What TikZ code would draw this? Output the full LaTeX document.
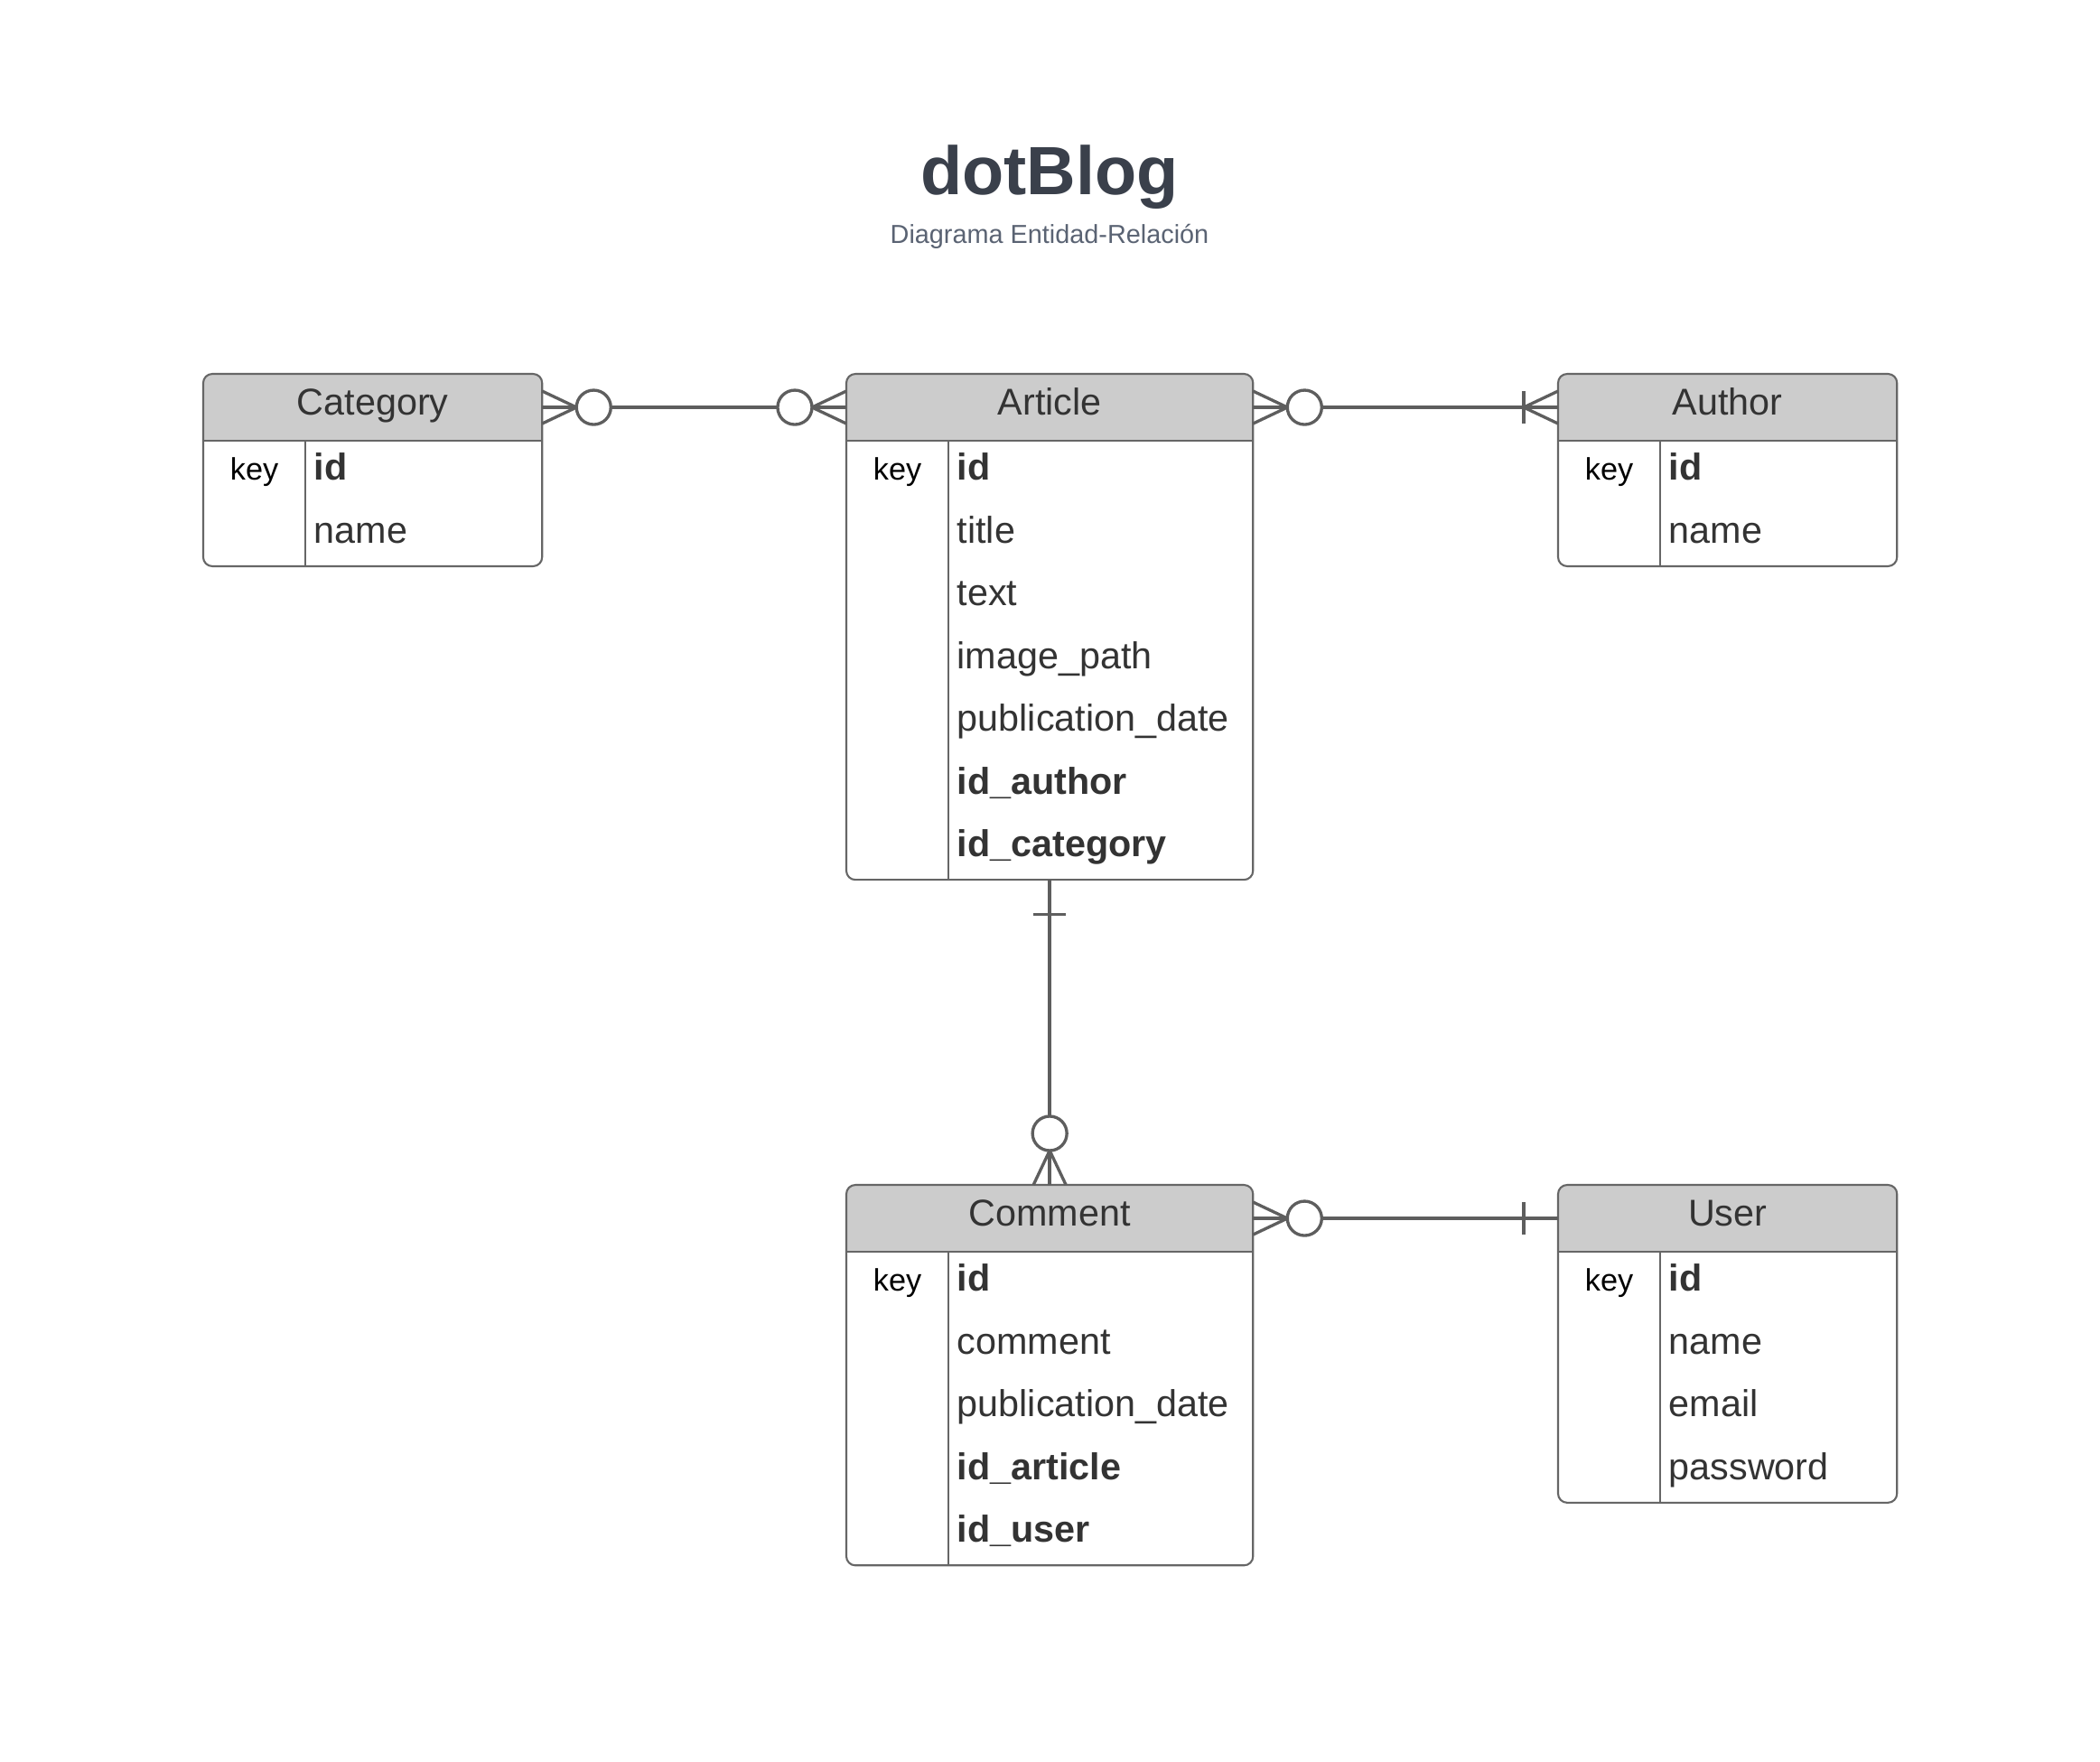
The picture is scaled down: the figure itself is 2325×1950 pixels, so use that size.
\documentclass[tikz,border=0pt]{standalone}
\usepackage{fontspec}
\setmainfont{Liberation Sans}
\usepackage{tikz}
\definecolor{linecolor}{RGB}{94,94,94}
\definecolor{bordercolor}{RGB}{102,102,102}
\definecolor{headercolor}{RGB}{204,204,204}
\definecolor{textcolor}{RGB}{51,51,51}
\definecolor{titlecolor}{RGB}{58,64,75}
\definecolor{subtitlecolor}{RGB}{90,99,115}

\tikzset{
  table/.style={draw=bordercolor, line width=0.6pt, rounded corners=0.1cm, anchor=north west,
    inner sep=0pt, outer sep=0pt,
    path picture={
      \fill[headercolor, sharp corners] (path picture bounding box.north west) rectangle ([yshift=-0.74cm]path picture bounding box.north east);
      \draw[bordercolor, line width=0.6pt, sharp corners] ([yshift=-0.74cm]path picture bounding box.north west) -- ([yshift=-0.74cm]path picture bounding box.north east);
    }},
  tablehead/.style={minimum height=0.74cm, inner sep=0pt, outer sep=0pt, text height=0.27cm, text depth=0.11cm,
    font=\fontsize{11.75}{14}\selectfont, text=textcolor},
  divider/.style={draw=bordercolor, line width=0.45pt},
  field/.style={anchor=base west, inner sep=0pt, font=\fontsize{11.75}{14}\selectfont, text=textcolor},
  keytext/.style={anchor=base, inner sep=0pt, font=\fontsize{9.75}{12}\selectfont, text=black},
  conn/.style={draw=linecolor, line width=0.95pt},
  zeromany/.pic={
    \draw[conn] (0cm,0.18cm) -- (0.38cm,0cm) -- (0cm,-0.18cm);
    \draw[conn, fill=white] (0.57cm,0cm) circle (0.19cm);
  },
  onemany/.pic={
    \draw[conn] (0cm,0.18cm) -- (0.38cm,0cm) -- (0cm,-0.18cm);
    \draw[conn] (0.38cm,0.18cm) -- (0.38cm,-0.18cm);
  },
  onebar/.pic={
    \draw[conn] (0.38cm,0.18cm) -- (0.38cm,-0.18cm);
  }
}

\begin{document}
\begin{tikzpicture}[x=0.01cm, y=-0.01cm]
    \fill[white] (0,0) rectangle (2325,1950);
    \useasboundingbox (0,0) rectangle (2325,1950);

    % Title
    \node[anchor=base, font=\fontsize{21.5}{26}\selectfont\bfseries, text=titlecolor] (title) at (1162,215) {dotBlog};
    \node[anchor=base, font=\fontsize{8.2}{10}\selectfont, text=subtitlecolor] (subtitle) at (1162,269) {Diagrama Entidad-Relación};

    % Category table
    \node[table, minimum width=3.75cm, minimum height=2.128cm] (categorybox) at (225,414) {};
    \node[tablehead, minimum width=3.75cm] (category) at ([yshift=-0.37cm]categorybox.north) {Category};
    \draw[divider] ([xshift=1.13cm, yshift=-0.74cm]categorybox.north west) -- ([xshift=1.13cm]categorybox.south west);
    \node[keytext] at ([xshift=0.565cm, yshift=-1.177cm]categorybox.north west) {key};
    \foreach \f [count=\i] in {\textbf{id}, name}
        \node[field] at ([xshift=1.22cm, yshift=-0.483cm-\i*0.694cm]categorybox.north west) {\f};

    % Article table
    \node[table, minimum width=4.5cm, minimum height=5.598cm] (articlebox) at (937,414) {};
    \node[tablehead, minimum width=4.5cm] (article) at ([yshift=-0.37cm]articlebox.north) {Article};
    \draw[divider] ([xshift=1.13cm, yshift=-0.74cm]articlebox.north west) -- ([xshift=1.13cm]articlebox.south west);
    \node[keytext] at ([xshift=0.565cm, yshift=-1.177cm]articlebox.north west) {key};
    \foreach \f [count=\i] in {\textbf{id}, title, text, image\_path, publication\_date, \textbf{id\_author}, \textbf{id\_category}}
        \node[field] at ([xshift=1.22cm, yshift=-0.483cm-\i*0.694cm]articlebox.north west) {\f};

    % Author table
    \node[table, minimum width=3.75cm, minimum height=2.128cm] (authorbox) at (1725,414) {};
    \node[tablehead, minimum width=3.75cm] (author) at ([yshift=-0.37cm]authorbox.north) {Author};
    \draw[divider] ([xshift=1.13cm, yshift=-0.74cm]authorbox.north west) -- ([xshift=1.13cm]authorbox.south west);
    \node[keytext] at ([xshift=0.565cm, yshift=-1.177cm]authorbox.north west) {key};
    \foreach \f [count=\i] in {\textbf{id}, name}
        \node[field] at ([xshift=1.22cm, yshift=-0.483cm-\i*0.694cm]authorbox.north west) {\f};

    % Comment table
    \node[table, minimum width=4.5cm, minimum height=4.21cm] (commentbox) at (937,1312) {};
    \node[tablehead, minimum width=4.5cm] (comment) at ([yshift=-0.37cm]commentbox.north) {Comment};
    \draw[divider] ([xshift=1.13cm, yshift=-0.74cm]commentbox.north west) -- ([xshift=1.13cm]commentbox.south west);
    \node[keytext] at ([xshift=0.565cm, yshift=-1.177cm]commentbox.north west) {key};
    \foreach \f [count=\i] in {\textbf{id}, comment, publication\_date, \textbf{id\_article}, \textbf{id\_user}}
        \node[field] at ([xshift=1.22cm, yshift=-0.483cm-\i*0.694cm]commentbox.north west) {\f};

    % User table
    \node[table, minimum width=3.75cm, minimum height=3.516cm] (userbox) at (1725,1312) {};
    \node[tablehead, minimum width=3.75cm] (user) at ([yshift=-0.37cm]userbox.north) {User};
    \draw[divider] ([xshift=1.13cm, yshift=-0.74cm]userbox.north west) -- ([xshift=1.13cm]userbox.south west);
    \node[keytext] at ([xshift=0.565cm, yshift=-1.177cm]userbox.north west) {key};
    \foreach \f [count=\i] in {\textbf{id}, name, email, password}
        \node[field] at ([xshift=1.22cm, yshift=-0.483cm-\i*0.694cm]userbox.north west) {\f};

    % Relations
    \draw[conn] (category.east) -- (article.west);
    \pic at (category.east) {zeromany};
    \pic[rotate=180] at (article.west) {zeromany};

    \draw[conn] (article.east) -- (author.west);
    \pic at (article.east) {zeromany};
    \pic[rotate=180] at (author.west) {onemany};

    \draw[conn] (articlebox.south) -- (comment.north);
    \pic[rotate=-90] at (articlebox.south) {onebar};
    \pic[rotate=90] at (comment.north) {zeromany};

    \draw[conn] (comment.east) -- (user.west);
    \pic at (comment.east) {zeromany};
    \pic[rotate=180] at (user.west) {onebar};
\end{tikzpicture}
\end{document}
